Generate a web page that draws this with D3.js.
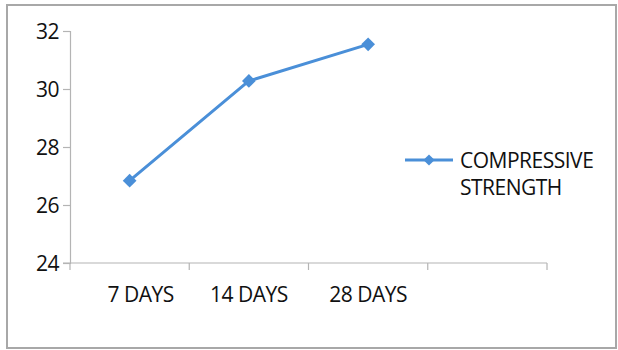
<!DOCTYPE html>
<html>
<head>
<meta charset="utf-8">
<script src="https://cdn.jsdelivr.net/npm/d3@7"></script>
<style>
  html, body { margin: 0; padding: 0; background: #fff; }
  svg { display: block; }
  text { font-family: "Open Sans", sans-serif; fill: #111; letter-spacing: -0.5px; }
</style>
</head>
<body>
<svg id="chart" width="618" height="350"></svg>
<script>
// Curing ages (the last slot is an empty category on the axis)
const categories = ["7 DAYS", "14 DAYS", "28 DAYS", ""];
const strength = [26.84, 30.28, 31.54];
const yTicks = [24, 26, 28, 30, 32];
const seriesName = ["COMPRESSIVE", "STRENGTH"];

const svg = d3.select("#chart");
const color = "#4a8fd8";
const axisColor = "#b4b4b4";
const fontSize = "21px";

// outer frame
svg.append("rect")
  .attr("x", 7).attr("y", 5).attr("width", 609).attr("height", 343)
  .attr("fill", "none").attr("stroke", "#a8a8a8").attr("stroke-width", 2);

const plot = { left: 70, right: 547, top: 31, bottom: 263 };

const x = d3.scaleBand().domain(categories).range([plot.left, plot.right]).padding(0);
const y = d3.scaleLinear().domain([24, 32]).range([plot.bottom, plot.top]);

// y axis
const yAxis = svg.append("g")
  .attr("transform", `translate(${plot.left},0)`)
  .call(d3.axisLeft(y).tickValues(yTicks).tickSize(7).tickPadding(4).tickFormat(d3.format("d")));
yAxis.attr("font-family", null).attr("font-size", null);
yAxis.select(".domain").attr("stroke", axisColor).attr("stroke-width", 1.2);
yAxis.selectAll(".tick line").attr("stroke", axisColor).attr("stroke-width", 1.2);
yAxis.selectAll(".tick text").style("font-size", fontSize).attr("fill", "#111")
  .attr("dy", "0.36em");

// x axis: ticks on band boundaries
const xAxisG = svg.append("g").attr("transform", `translate(0,${plot.bottom})`);
xAxisG.append("line")
  .attr("x1", plot.left - 7).attr("x2", plot.right)
  .attr("stroke", axisColor).attr("stroke-width", 1.2);
const bounds = categories.map(c => x(c)).concat([plot.right]);
xAxisG.selectAll(".xt").data(bounds).join("line")
  .attr("x1", d => d).attr("x2", d => d).attr("y1", 0).attr("y2", 7)
  .attr("stroke", axisColor).attr("stroke-width", 1.2);
xAxisG.selectAll(".xl").data(categories).join("text")
  .attr("x", (d, i) => x(d) + x.bandwidth() / 2 + (i === 0 ? 11 : 0))
  .attr("y", 39)
  .attr("text-anchor", "middle")
  .style("font-size", fontSize)
  .text(d => d);

// series line with diamond markers
const pts = strength.map((v, i) => ({ c: categories[i], v }));
const cx = d => x(d.c) + x.bandwidth() / 2;
const line = d3.line().x(cx).y(d => y(d.v));
svg.append("path").datum(pts)
  .attr("d", line).attr("fill", "none")
  .attr("stroke", color).attr("stroke-width", 3).attr("stroke-linejoin", "round");

const diamond = d3.symbol().type(d3.symbolDiamond2).size(120);
svg.selectAll(".pt").data(pts).join("path")
  .attr("transform", d => `translate(${cx(d)},${y(d.v)})`)
  .attr("d", diamond).attr("fill", color);

// legend
const lg = svg.append("g").attr("transform", "translate(405,160)");
lg.append("line").attr("x1", 0).attr("x2", 48).attr("stroke", color).attr("stroke-width", 3);
lg.append("path").attr("transform", "translate(24,0)")
  .attr("d", d3.symbol().type(d3.symbolDiamond2).size(80)).attr("fill", color);
lg.selectAll("text").data(seriesName).join("text")
  .attr("x", 55).attr("y", (d, i) => 8 + i * 27)
  .style("font-size", fontSize)
  .text(d => d);
</script>
</body>
</html>
